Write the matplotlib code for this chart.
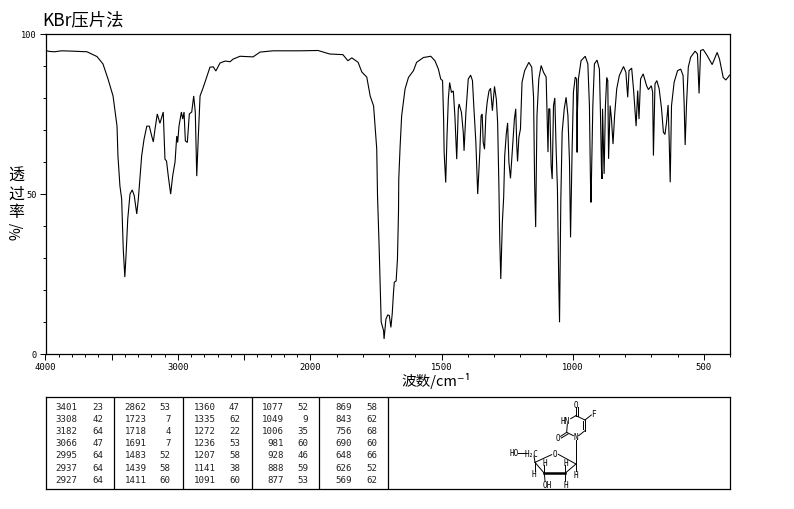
# ir_spectrum_kbr.py
import numpy as np
import matplotlib
matplotlib.use("Agg")
import matplotlib.pyplot as plt

plt.rcParams['font.family'] = ['Noto Sans CJK SC', 'DejaVu Sans']

# spectrum
wavenumber = [4000, 3970, 3930, 3880, 3800, 3687, 3611, 3566, 3528, 3490, 3460, 3453, 3438, 3425, 3413, 3401,
              3392, 3379, 3362, 3345, 3330, 3311, 3299, 3274, 3256, 3235, 3216, 3198, 3186, 3173, 3156,
              3136, 3111, 3098, 3086, 3073, 3055, 3040, 3022, 3009, 3002, 2992, 2974, 2964, 2954, 2944,
              2929, 2914, 2896, 2881, 2869, 2858, 2846, 2833, 2808, 2783, 2758, 2733, 2714, 2682, 2644,
              2606, 2584, 2531, 2433, 2380, 2282, 2078, 1971, 1926, 1876, 1857, 1842, 1818, 1804, 1785,
              1772, 1759, 1747, 1744, 1742, 1738, 1734, 1730, 1721, 1719, 1712, 1705, 1699, 1693, 1688,
              1683, 1680, 1673, 1668, 1664, 1663, 1658, 1652, 1639, 1626, 1607, 1595, 1569, 1541, 1525,
              1512, 1503, 1496, 1492, 1490, 1484, 1479, 1474, 1469, 1462, 1455, 1449, 1442, 1436, 1433,
              1424, 1417, 1414, 1407, 1398, 1389, 1382, 1377, 1369, 1362, 1354, 1349, 1345, 1341, 1336,
              1331, 1326, 1319, 1313, 1306, 1298, 1291, 1286, 1281, 1278, 1274, 1268, 1263, 1259, 1253,
              1248, 1243, 1237, 1232, 1227, 1222, 1217, 1213, 1210, 1205, 1199, 1193, 1183, 1167, 1156,
              1149, 1145, 1141, 1136, 1129, 1120, 1111, 1101, 1094, 1091, 1087, 1082, 1078, 1073, 1068,
              1063, 1058, 1053, 1050, 1045, 1040, 1032, 1025, 1018, 1012, 1008, 1002, 997, 990, 985,
              983, 982, 978, 968, 952, 942, 936, 932, 930, 923, 917, 907, 898, 894, 890, 888, 886, 880,
              875, 870, 866, 863, 857, 852, 846, 840, 832, 822, 806, 797, 790, 785, 775, 768, 758, 752,
              747, 741, 731, 718, 711, 700, 695, 692, 686, 679, 670, 661, 654, 648, 642, 636, 632, 628,
              623, 613, 600, 588, 579, 575, 571, 566, 559, 550, 533, 524, 518, 512, 502, 487, 468, 449,
              440, 426, 416, 406, 402]
transmittance = [94.7, 94.4, 94.3, 94.6, 94.5, 94.3, 92.8, 90.5, 85.8, 80.5, 71.1, 61.8, 52.4, 48.4, 32.8, 24,
                 30.7, 42.1, 49.9, 51.2, 49.4, 43.7, 48.4, 61.8, 67, 71.1, 71.1, 68, 66.2, 70.2, 74.9,
                 72, 75.5, 60.8, 60.2, 55.5, 49.9, 55.5, 59.9, 68, 66, 71.1, 75.5, 73.3, 75.5, 66.5,
                 66, 74.9, 75.5, 80.5, 75.5, 55.5, 68, 80.5, 83.3, 86.4, 89.5, 89.6, 88.3, 90.8, 91.4,
                 91.2, 92, 92.9, 92.7, 94.2, 94.6, 94.6, 94.7, 93.6, 93.4, 91.5, 92.4, 91, 88, 86.4,
                 80.5, 77.4, 64, 49.3, 44.3, 33.8, 21.3, 10, 7.3, 4.7, 10.9, 12.2, 12, 8.3, 12.5,
                 19.3, 22.4, 22.8, 29.6, 44.3, 54.6, 64.5, 74.3, 82.7, 86.3, 88.4, 91, 92.5, 92.9, 91.5,
                 88.9, 85.8, 85.3, 73.3, 62.9, 53.5, 68.1, 79.5, 84.7, 81.6, 82.1, 74.3, 60.8, 76.4, 78,
                 75.4, 69.1, 63.4, 75.4, 85.8, 87, 85.3, 77.5, 66, 49.9, 62.9, 74.3, 74.9, 66, 63.9,
                 74.3, 78.5, 82.1, 82.9, 75.9, 83.5, 79.5, 72.2, 51.5, 35.9, 23.4, 41.1, 48.9, 61.9, 68.7,
                 72.1, 59.8, 54.8, 60.9, 67.1, 73.4, 76.5, 65, 60.1, 67.6, 70.2, 84.8, 88.4, 91, 89.5,
                 80.1, 53.6, 39.6, 74.4, 85.8, 90, 87.9, 86.4, 63, 76.5, 76.5, 58.8, 54.6, 77.5, 79.9,
                 64, 51.5, 22.4, 9.9, 48.4, 69.2, 76.5, 80.1, 74.4, 59.8, 36.4, 64, 81.7, 86.4, 85.8,
                 62.9, 74.9, 85.8, 91.5, 92.9, 90.5, 77.5, 53.6, 47.3, 77.5, 90.5, 91.7, 88.9, 75.4, 57.7, 54.6, 76.5, 56.2,
                 77.5, 86.3, 85.3, 60.9, 77.5, 73.3, 65.5, 74.4, 82.7, 86.9, 89.7, 87.9, 80.1, 88.4, 89.2, 82.7, 71.1, 82.2,
                 73.3, 85.8, 87.4, 83.7, 82.5, 83.7, 81.7, 61.9, 84.3, 85.3, 82.7, 76.5, 69.2, 68.5, 72.3, 77.7, 67.1, 53.6,
                 77.5, 84.8, 88.4, 88.9, 86.9, 78.5, 65.2, 77.5, 89.5, 92.6, 94.5, 93.6, 81.3, 94.7, 95, 93.1, 90.3, 94.1,
                 92, 86.3, 85.5, 86.5, 87]

# peak table, one list per column
peak_wave = [[3401, 3308, 3182, 3066, 2995, 2937, 2927],
             [2862, 1723, 1718, 1691, 1483, 1439, 1411],
             [1360, 1335, 1272, 1236, 1207, 1141, 1091],
             [1077, 1049, 1006, 981, 928, 888, 877],
             [869, 843, 756, 690, 648, 626, 569]]
peak_trans = [[23, 42, 64, 47, 64, 64, 64],
              [53, 7, 4, 7, 52, 58, 60],
              [47, 62, 22, 53, 58, 38, 60],
              [52, 9, 35, 60, 46, 59, 53],
              [58, 62, 68, 60, 66, 52, 62]]

W, H = 794, 510
MONO = 'DejaVu Sans Mono'


# wavenumber axis is stretched by two below 2000
def forward(w):
    w = np.asarray(w, dtype=float)
    return np.where(w <= 2000, w, 2000 + (w - 2000) * 0.505)


def inverse(p):
    p = np.asarray(p, dtype=float)
    return np.where(p <= 2000, p, 2000 + (p - 2000) / 0.505)


def box(left, top, right, bottom):
    return [left / W, 1 - bottom / H, (right - left) / W, (bottom - top) / H]


fig = plt.figure(figsize=(W / 100, H / 100), dpi=100, facecolor='white')

ax = fig.add_axes(box(45.5, 34.5, 730, 355))
ax.set_xscale('function', functions=(forward, inverse))
ax.plot(wavenumber, transmittance, color='black', lw=0.8, solid_joinstyle='miter')
ax.set_xlim(4000, 400)
ax.set_ylim(0, 100)

major_x = [4000, 3500, 3000, 2500, 2000, 1500, 1000, 500]
major_lab = ['4000', '', '3000', '', '2000', '1500', '1000', '500']
ax.set_xticks(major_x, major_lab, family=MONO, fontsize=6.4)
ax.set_xticks(np.arange(400, 4000, 100), minor=True)
ax.set_yticks([0, 50, 100], ['0', '50', '100'], family=MONO, fontsize=6.2)
ax.set_yticks(np.arange(0, 101, 10), minor=True)
ax.tick_params(which='major', length=4.5, width=0.7, pad=2)
ax.tick_params(axis='x', which='major', pad=1)
ax.tick_params(which='minor', length=2.5, width=0.7)
for s in ax.spines.values():
    s.set_linewidth(0.9)

fig.text(42 / W, 1 - 20 / H, 'KBr压片法', fontsize=12.5, va='center', ha='left')
for ch, py in zip('透过率', [176, 194, 213]):
    fig.text(16 / W, 1 - py / H, ch, fontsize=11.5, ha='center', va='center')
fig.text(16 / W, 1 - 231 / H, '%/', fontsize=10, rotation=90, ha='center', va='center')
fig.text(436 / W, 1 - 381 / H, '波数/cm⁻¹', fontsize=10.5, ha='center', va='center')

# peak table
tb = fig.add_axes(box(45.5, 398, 730, 490))
tb.set_xlim(45.5, 730)
tb.set_ylim(490, 398)
tb.set_xticks([])
tb.set_yticks([])
for s in tb.spines.values():
    s.set_linewidth(0.9)
for x in [114, 182.7, 251.7, 319, 388]:
    tb.axvline(x, color='black', lw=0.9)
col_wave = [77.3, 146.7, 215.7, 284.3, 351.7]
col_trans = [103.3, 170.7, 240, 308.3, 377.3]
row_y = [407.3, 419.5, 431.7, 443.9, 456, 468.3, 481]
for c in range(5):
    for r in range(7):
        tb.text(col_wave[c], row_y[r], str(peak_wave[c][r]), family=MONO, fontsize=6.6,
                ha='right', va='center', color='#222222')
        tb.text(col_trans[c], row_y[r], str(peak_trans[c][r]), family=MONO, fontsize=6.6,
                ha='right', va='center', color='#222222')

# structure drawing, coordinates on a 390x300 sketch grid
mol = fig.add_axes(box(490, 395, 620, 495))
mol.set_xlim(0, 390)
mol.set_ylim(300, 0)
mol.axis('off')
mol.patch.set_alpha(0)
bonds = [
    (258, 65, 258, 40), (264, 65, 264, 40),
    (258, 65, 242, 74), (232, 90, 230, 115),
    (230, 115, 212, 127), (234, 120, 214, 132),
    (230, 115, 250, 125), (266, 125, 285, 110),
    (285, 110, 285, 78), (279, 106, 279, 82),
    (285, 78, 258, 65), (285, 78, 304, 63),
    (258, 138, 258, 210),
    (258, 210, 205, 181), (185, 182, 135, 205),
    (135, 205, 163, 238), (225, 238, 258, 210),
    (135, 205, 132, 186), (85, 176, 107, 176),
    (135, 205, 135, 231), (163, 238, 163, 214),
    (225, 238, 225, 214), (258, 210, 258, 232),
    (163, 238, 165, 260), (225, 238, 225, 260),
]
for x0, y0, x1, y1 in bonds:
    mol.plot([x0, x1], [y0, y1], color='black', lw=0.7)
mol.plot([163, 225], [238, 238], color='black', lw=1.8)
labels = [(258, 32, 'O'), (226, 80, 'HN'), (203, 131, 'O'), (258, 128, 'N'), (311, 58, 'F'),
          (195, 178, 'O'), (72, 176, 'HO'), (124, 178, 'H₂C'), (132, 240, 'H'), (165, 205, 'H'),
          (227, 205, 'H'), (258, 241, 'H'), (172, 271, 'OH'), (227, 271, 'H')]
for x, y, t in labels:
    mol.text(x, y, t, family=MONO, fontsize=5.5, ha='center', va='center')

fig.savefig('out.png', dpi=100)
